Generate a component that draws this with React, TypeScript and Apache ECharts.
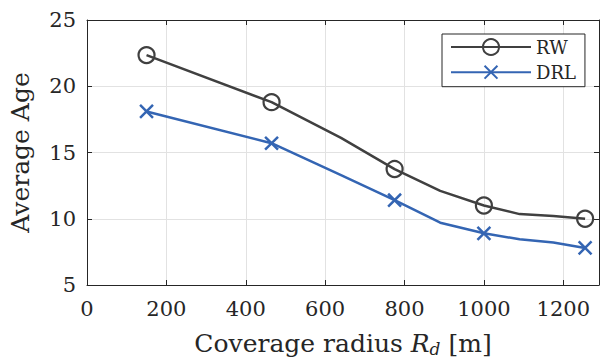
import React, { useEffect, useRef } from 'react';
import * as echarts from 'echarts';

// Data
const radius = [150, 465, 640, 775, 890, 1000, 1090, 1175, 1255];
const rwAge = [22.35, 18.8, 16.1, 13.75, 12.1, 11.0, 10.35, 10.2, 10.0];
const drlAge = [18.1, 15.7, 13.3, 11.4, 9.7, 8.9, 8.45, 8.2, 7.8];
const markerIdx = [0, 1, 3, 5, 8];
const xTicks = [0, 200, 400, 600, 800, 1000, 1200];
const yTicks = [5, 10, 15, 20, 25];
const seriesNames = ['RW', 'DRL'];

const FONT = 'DejaVu Serif';
const AX = '#262626';
const GRID = '#e2e2e2';
const RW_COLOR = '#404040';
const DRL_COLOR = '#3465b3';
const CROSS = 'path://M-1.2,-1.2M11.2,11.2M0,0L10,10M10,0L0,10';

export default function App() {
  const ref = useRef<HTMLDivElement>(null);
  useEffect(() => {
    if (!ref.current) return;
    const chart = echarts.init(ref.current, undefined, { renderer: 'svg' });
    const axisLine = { show: true, onZero: false, lineStyle: { color: AX, width: 1 } };
    const axisTick = { show: true, inside: true, length: 5, lineStyle: { color: AX, width: 1 } };
    const xBase = { type: 'value', min: 0, max: 1290, interval: 200 };
    const yBase = { type: 'value', min: 5, max: 25, interval: 5 };
    const mk = (ys: number[], sym: string) =>
      radius.map((x, i) => ({ value: [x, ys[i]], symbol: markerIdx.includes(i) ? sym : 'none' }));
    chart.setOption({
      animation: false,
      backgroundColor: '#ffffff',
      textStyle: { fontFamily: FONT },
      grid: { left: 87, right: 3, top: 20, bottom: 76, containLabel: false },
      xAxis: [
        {
          ...xBase,
          position: 'bottom',
          axisLine,
          axisTick,
          axisLabel: {
            fontSize: 21,
            fontFamily: FONT,
            color: AX,
            margin: 13,
            formatter: (v: number) => (xTicks.includes(v) ? String(v) : ''),
          },
          splitLine: { show: true, lineStyle: { color: GRID, width: 1 } },
          name: 'Coverage radius {i|R}{s|d} [m]',
          nameLocation: 'middle',
          nameGap: 44,
          nameTextStyle: {
            fontSize: 25,
            fontFamily: FONT,
            color: AX,
            rich: {
              i: { fontSize: 25, fontStyle: 'italic', fontFamily: FONT, color: AX },
              s: { fontSize: 17, fontStyle: 'italic', fontFamily: FONT, color: AX, padding: [11, 0, 0, 0] },
            },
          },
        },
        {
          ...xBase,
          position: 'top',
          axisLine,
          axisTick,
          axisLabel: { show: false },
          splitLine: { show: false },
        },
      ],
      yAxis: [
        {
          ...yBase,
          position: 'left',
          axisLine,
          axisTick,
          axisLabel: {
            fontSize: 21,
            fontFamily: FONT,
            color: AX,
            margin: 11,
            formatter: (v: number) => (yTicks.includes(v) ? String(v) : ''),
          },
          splitLine: { show: true, lineStyle: { color: GRID, width: 1 } },
          name: 'Average Age',
          nameLocation: 'middle',
          nameGap: 54,
          nameTextStyle: { fontSize: 25, fontFamily: FONT, color: AX },
        },
        {
          ...yBase,
          position: 'right',
          axisLine,
          axisTick,
          axisLabel: { show: false },
          splitLine: { show: false },
        },
      ],
      legend: {
        data: seriesNames,
        orient: 'vertical',
        left: 442,
        top: 34,
        itemWidth: 80,
        itemHeight: 20,
        itemGap: 5.7,
        padding: [4, 9, 4, 8],
        borderColor: AX,
        borderWidth: 1,
        backgroundColor: '#ffffff',
        textStyle: { fontSize: 18, fontFamily: FONT, color: AX },
      },
      series: [
        {
          name: seriesNames[0],
          type: 'line',
          data: mk(rwAge, 'circle'),
          symbol: 'circle',
          symbolSize: 16,
          lineStyle: { color: RW_COLOR, width: 2.5 },
          itemStyle: { color: 'rgba(255,255,255,0)', borderColor: RW_COLOR, borderWidth: 2.2 },
          emphasis: { disabled: true },
          z: 3,
        },
        {
          name: seriesNames[1],
          type: 'line',
          data: mk(drlAge, CROSS),
          symbol: CROSS,
          symbolSize: 16,
          lineStyle: { color: DRL_COLOR, width: 2.5 },
          itemStyle: { color: 'none', borderColor: DRL_COLOR, borderWidth: 2.5 },
          emphasis: { disabled: true },
          z: 3,
        },
      ],
    });
    return () => chart.dispose();
  }, []);
  return (
    <div
      ref={ref}
      style={{ position: 'fixed', left: 0, top: 0, width: 602, height: 362, background: '#fff' }}
    />
  );
}
